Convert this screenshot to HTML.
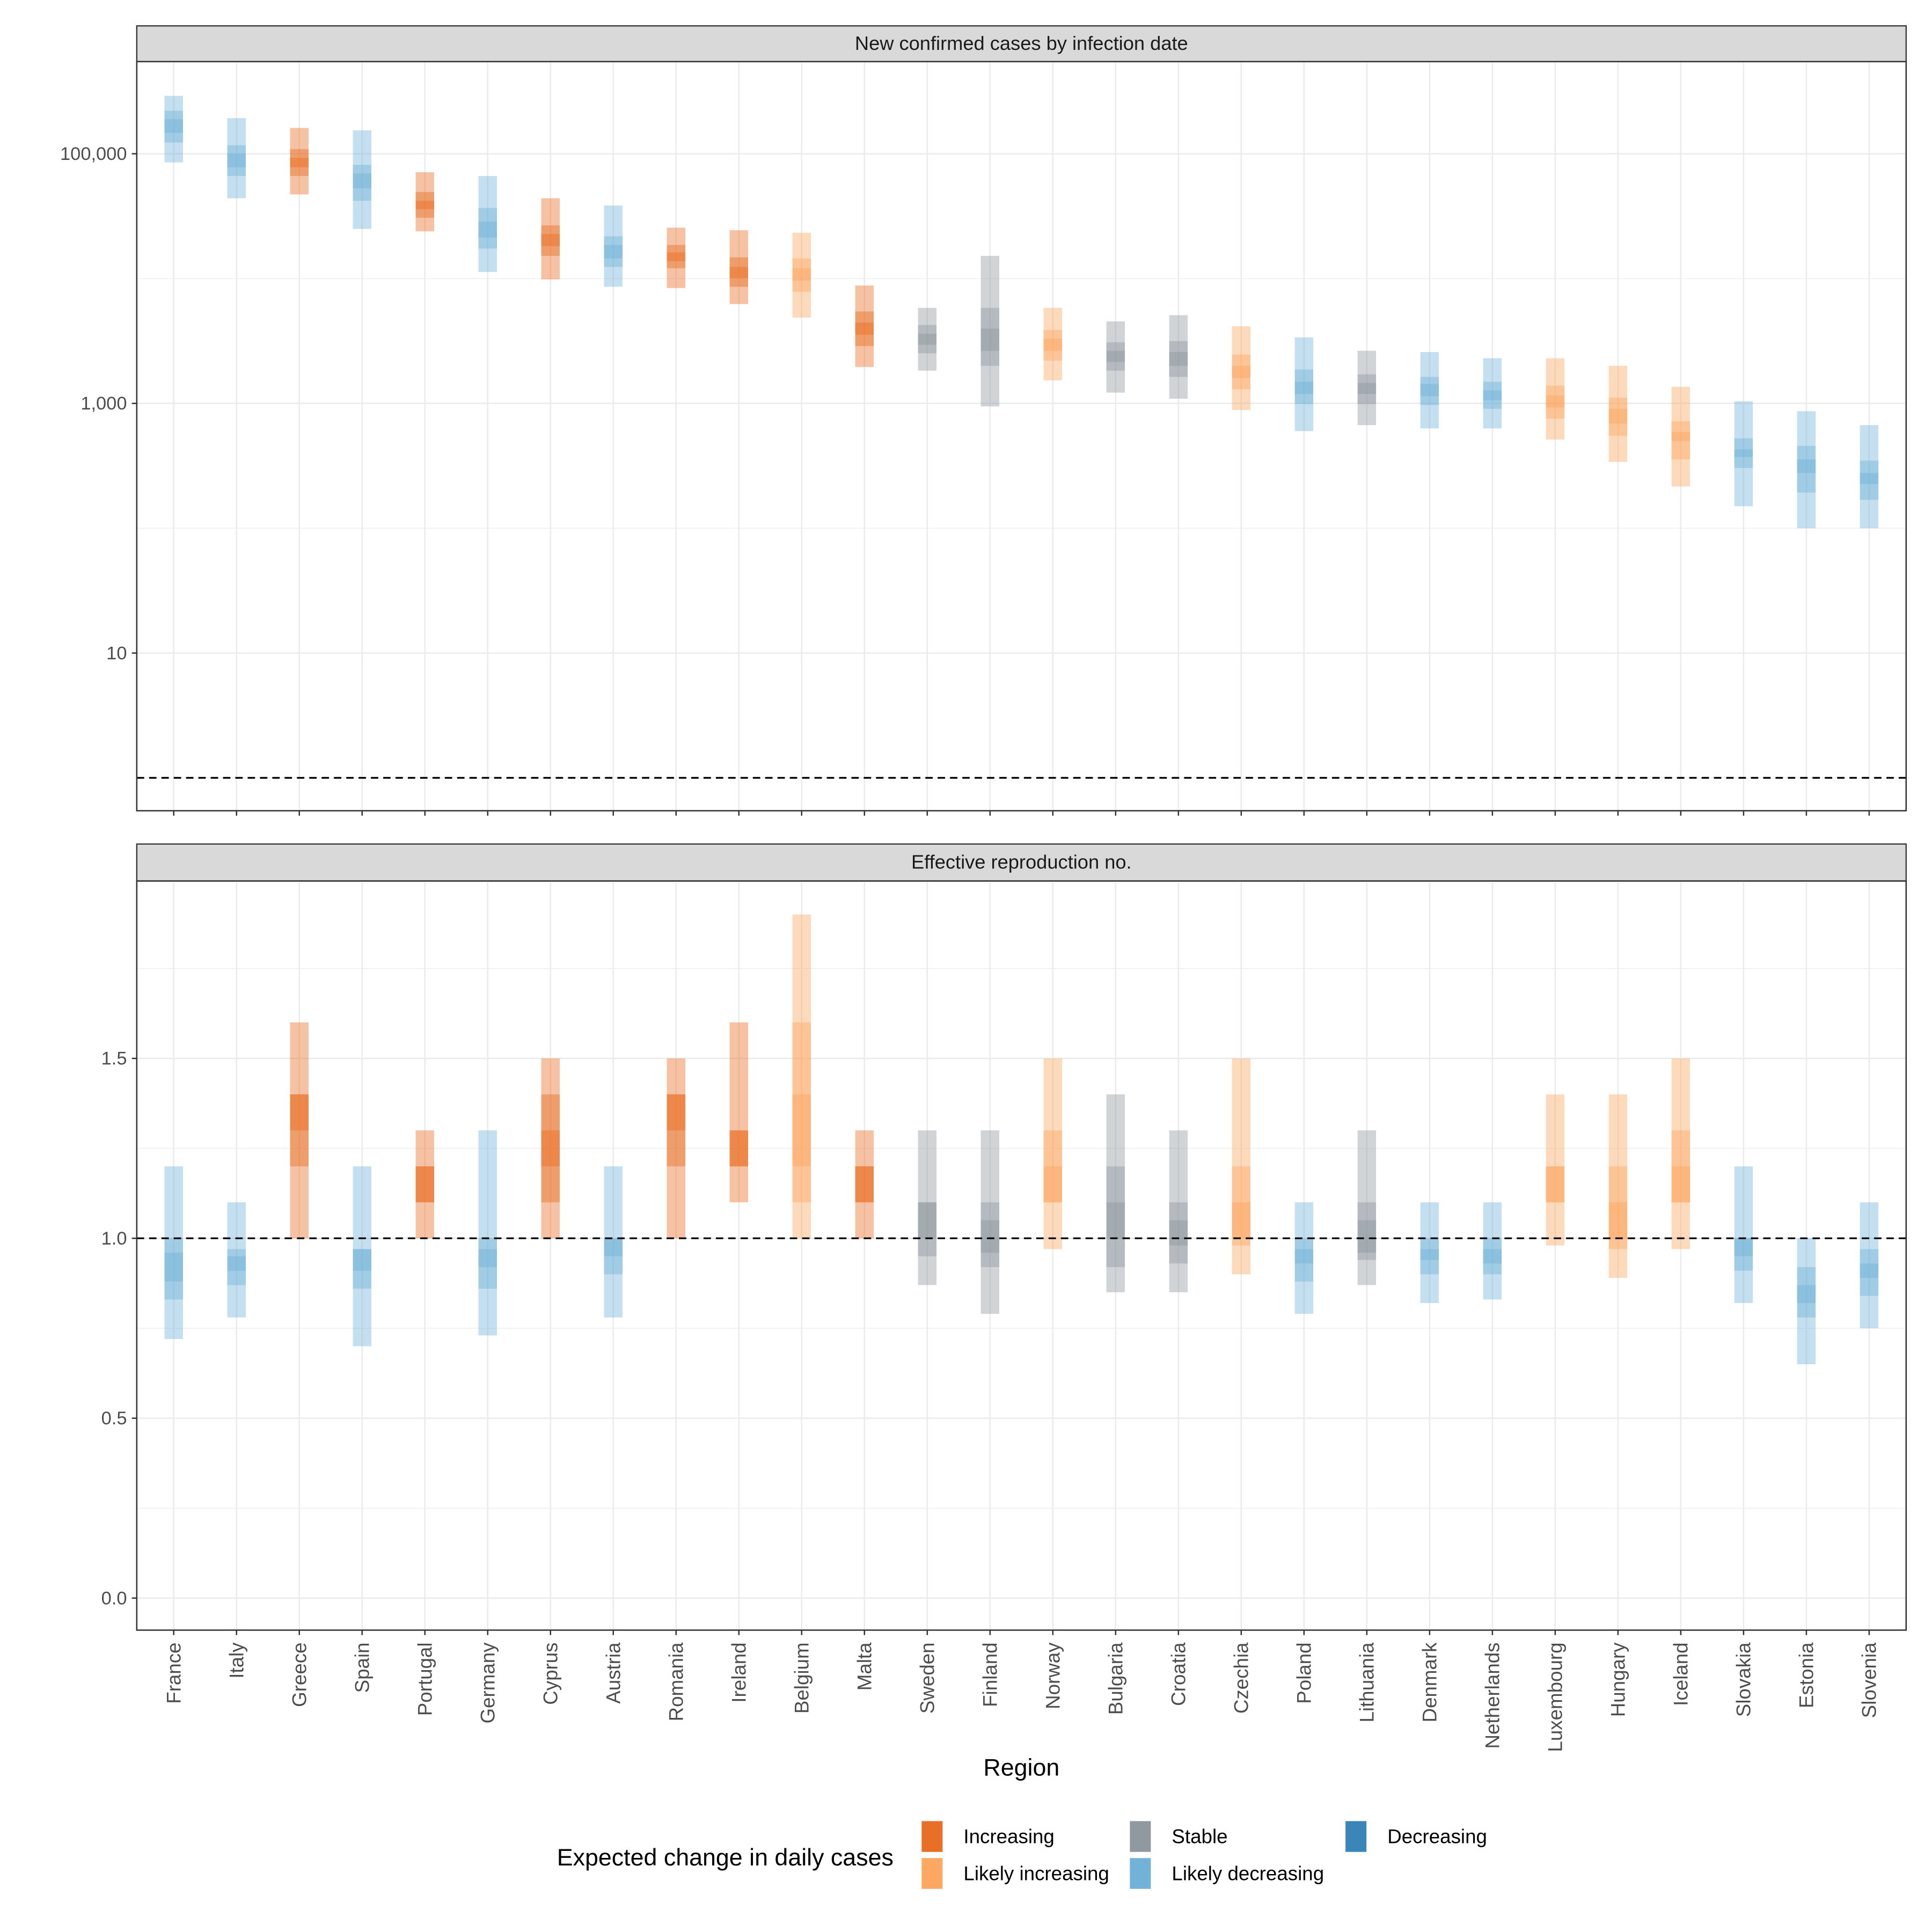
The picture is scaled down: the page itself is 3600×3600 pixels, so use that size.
<!DOCTYPE html>
<html><head><meta charset="utf-8"><style>html,body{margin:0;padding:0;background:#fff}svg{display:block}</style></head>
<body>
<svg id="chart" width="3600" height="3600" viewBox="0 0 1568 1568" xmlns="http://www.w3.org/2000/svg" font-family="Liberation Sans, sans-serif"></svg>
<script>
const regions = ["France","Italy","Greece","Spain","Portugal","Germany","Cyprus","Austria","Romania","Ireland","Belgium","Malta","Sweden","Finland","Norway","Bulgaria","Croatia","Czechia","Poland","Lithuania","Denmark","Netherlands","Luxembourg","Hungary","Iceland","Slovakia","Estonia","Slovenia"];
const categories = ["LD","LD","I","LD","I","LD","I","LD","I","I","LI","I","S","S","LI","S","S","LI","LD","S","LD","LD","LI","LI","LI","LD","LD","LD"];
// cases: upper90, upper50, upper20, lower20, lower50, lower90
const casesU90 = [291000,193000,161000,154000,71100,66400,44000,38500,25600,24400,23300,8800,5830,15200,5830,4540,5090,4150,3380,2640,2580,2300,2300,2000,1360,1040,865,670];
const casesU50 = [221000,117000,109000,81500,49400,36800,26700,21800,18600,14800,14500,5450,4250,5830,3880,3090,3160,2460,1870,1710,1630,1490,1390,1110,720,525,457,348];
const casesU20 = [189000,100000,93000,69500,42000,28600,22800,18600,16200,12400,12100,4440,3620,3970,3300,2640,2580,2000,1490,1460,1430,1270,1160,905,590,428,356,277];
const casesL20 = [147000,78000,78000,53000,36000,21300,18200,14500,13800,10100,9620,3540,2950,2640,2640,2150,2000,1600,1190,1190,1140,1060,925,690,500,373,277,226];
const casesL50 = [123000,66400,66400,42000,30700,17400,15200,12400,12100,8600,7840,2880,2520,2000,2200,1830,1630,1300,990,990,970,905,755,550,356,304,193,169];
const casesL90 = [85300,44000,47200,25000,23900,11300,9850,8600,8400,6250,4870,1960,1830,946,1530,1220,1090,885,600,670,630,630,513,340,216,150,100,100];
// effective reproduction number
const rU90 = [1.2,1.1,1.6,1.2,1.3,1.3,1.5,1.2,1.5,1.6,1.9,1.3,1.3,1.3,1.5,1.4,1.3,1.5,1.1,1.3,1.1,1.1,1.4,1.4,1.5,1.2,1.0,1.1];
const rU50 = [1.0,0.97,1.4,0.97,1.2,1.0,1.4,1.0,1.4,1.3,1.6,1.2,1.1,1.1,1.3,1.2,1.1,1.2,1.0,1.1,1.0,1.0,1.2,1.2,1.3,1.0,0.92,0.97];
const rU20 = [0.96,0.95,1.4,0.97,1.2,0.97,1.3,1.0,1.4,1.3,1.4,1.2,1.1,1.05,1.2,1.1,1.05,1.1,0.97,1.05,0.97,0.97,1.2,1.1,1.2,1.0,0.87,0.93];
const rL20 = [0.88,0.91,1.3,0.91,1.1,0.92,1.2,0.95,1.3,1.2,1.2,1.1,1.0,0.96,1.1,1.0,0.98,1.0,0.93,0.96,0.94,0.93,1.1,1.0,1.1,0.95,0.82,0.89];
const rL50 = [0.83,0.87,1.2,0.86,1.1,0.86,1.1,0.90,1.2,1.2,1.1,1.1,0.95,0.92,1.1,0.92,0.93,0.98,0.88,0.94,0.90,0.90,1.1,0.97,1.1,0.91,0.78,0.84];
const rL90 = [0.72,0.78,1.0,0.70,1.0,0.73,1.0,0.78,1.0,1.1,1.0,1.0,0.87,0.79,0.97,0.85,0.85,0.90,0.79,0.87,0.82,0.83,0.98,0.89,0.97,0.82,0.65,0.75];
const caseTicks = [10,1000,100000];
const caseTickLabels = ["10","1,000","100,000"];
const rTicks = [0,0.5,1,1.5];
const rTickLabels = ["0.0","0.5","1.0","1.5"];

const colors = {I:"#e8661a", LI:"#fda35a", S:"#8a939b", LD:"#6baed6", D:"#2f7fb5"};
const NS = "http://www.w3.org/2000/svg";
const svg = document.getElementById("chart");
function el(tag, attrs, parent, text){const e=document.createElementNS(NS,tag);for(const k in attrs)e.setAttribute(k,attrs[k]);if(text!==undefined)e.textContent=text;(parent||svg).appendChild(e);return e;}

const PX0=111, PX1=1547;
const xPos = i => 141 + i*(1517-141)/(regions.length-1);
const yCase = v => 530 - (Math.log10(v)-1)*101.3;
const yR = v => 1297 - v*292;

function panel(top, bot, stripTop, title, name){
  const g=el("g",{}, svg);
  
  
  const s=el("rect",{x:PX0,y:stripTop,width:PX1-PX0,height:top-stripTop,fill:"#d9d9d9",stroke:"#333","stroke-width":1},g);
  
  
  const t=el("text",{x:(PX0+PX1)/2,y:(stripTop+top)/2+5,"text-anchor":"middle","font-size":15.8,fill:"#1a1a1a"},g,title);
  
  
  return g;
}
function grid(g,y,major){const l=el("line",{x1:PX0,x2:PX1,y1:y,y2:y,stroke:"#ebebeb","stroke-width":major?1.1:0.55},g);}

function drawPanel(g, top, bot, yF, u90,u50,u20,l20,l50,l90, ticks, labels, minorVals, refVal, axisName){
  minorVals.forEach(v=>grid(g,yF(v),false));
  ticks.forEach(v=>grid(g,yF(v),true));
  regions.forEach((r,i)=>{const l=el("line",{x1:xPos(i),x2:xPos(i),y1:top,y2:bot,stroke:"#ebebeb","stroke-width":1.1},g);});
  regions.forEach((r,i)=>{
    const c=colors[categories[i]];
    [[u90,l90],[u50,l50],[u20,l20]].forEach(([u,l],k)=>{
      const y1=yF(u[i]), y2=yF(l[i]);
      const b=el("rect",{x:xPos(i)-7.5,y:Math.min(y1,y2),width:15,height:Math.abs(y2-y1),fill:c,"fill-opacity":0.4},g);
      
      
    });
  });
  const d=el("line",{x1:PX0,x2:PX1,y1:yF(refVal),y2:yF(refVal),stroke:"#000","stroke-width":1.4,"stroke-dasharray":"6,4"},g);
  
  
  const f=el("rect",{x:PX0,y:top,width:PX1-PX0,height:bot-top,fill:"none",stroke:"#333","stroke-width":1.1},g);
  
  
  ticks.forEach((v,i)=>{
    const y=yF(v);
    const tk=el("line",{x1:PX0-4,x2:PX0,y1:y,y2:y,stroke:"#333","stroke-width":1.1},g);
    
    
    const tl=el("text",{x:PX0-8,y:y+5,"text-anchor":"end","font-size":15,fill:"#4d4d4d"},g,labels[i]);
    
    
  });
  regions.forEach((r,i)=>{const tk=el("line",{x1:xPos(i),x2:xPos(i),y1:bot,y2:bot+4,stroke:"#333","stroke-width":1.1},g);});
}

const g1=panel(50,658,21,"New confirmed cases by infection date","cases-panel");
drawPanel(g1,50,658,yCase,casesU90,casesU50,casesU20,casesL20,casesL50,casesL90,caseTicks,caseTickLabels,[1,100,10000],1,"cases-y-axis");
const g2=panel(715,1323,685,"Effective reproduction no.","rt-panel");
drawPanel(g2,715,1323,yR,rU90,rU50,rU20,rL20,rL50,rL90,rTicks,rTickLabels,[0.25,0.75,1.25,1.75],1,"rt-y-axis");

regions.forEach((r,i)=>{
  const t=el("text",{x:0,y:0,transform:`translate(${xPos(i)+5.5},1333) rotate(-90)`,"text-anchor":"end","font-size":16,fill:"#4d4d4d"},svg,r);
  
  
});
const xt=el("text",{x:829,y:1441,"text-anchor":"middle","font-size":19.5,fill:"#000"},svg,"Region");



const lg=el("g",{},svg);


const lt=el("text",{x:452,y:1514,"font-size":19.5,fill:"#000"},lg,"Expected change in daily cases");


const legendLabels=["Increasing","Likely increasing","Stable","Likely decreasing","Decreasing"];
const legendKeys=["I","LI","S","LD","D"];
const legendX=[748,748,917,917,1092], legendY=[1478,1508,1478,1508,1478];
legendKeys.forEach((k,i)=>{
  const r=el("rect",{x:legendX[i],y:legendY[i],width:17,height:25,fill:colors[k],"fill-opacity":0.95},lg);
  
  
  const t=el("text",{x:legendX[i]+34,y:legendY[i]+18,"font-size":16,fill:"#000"},lg,legendLabels[i]);
  
  
});
</script>
</body></html>
